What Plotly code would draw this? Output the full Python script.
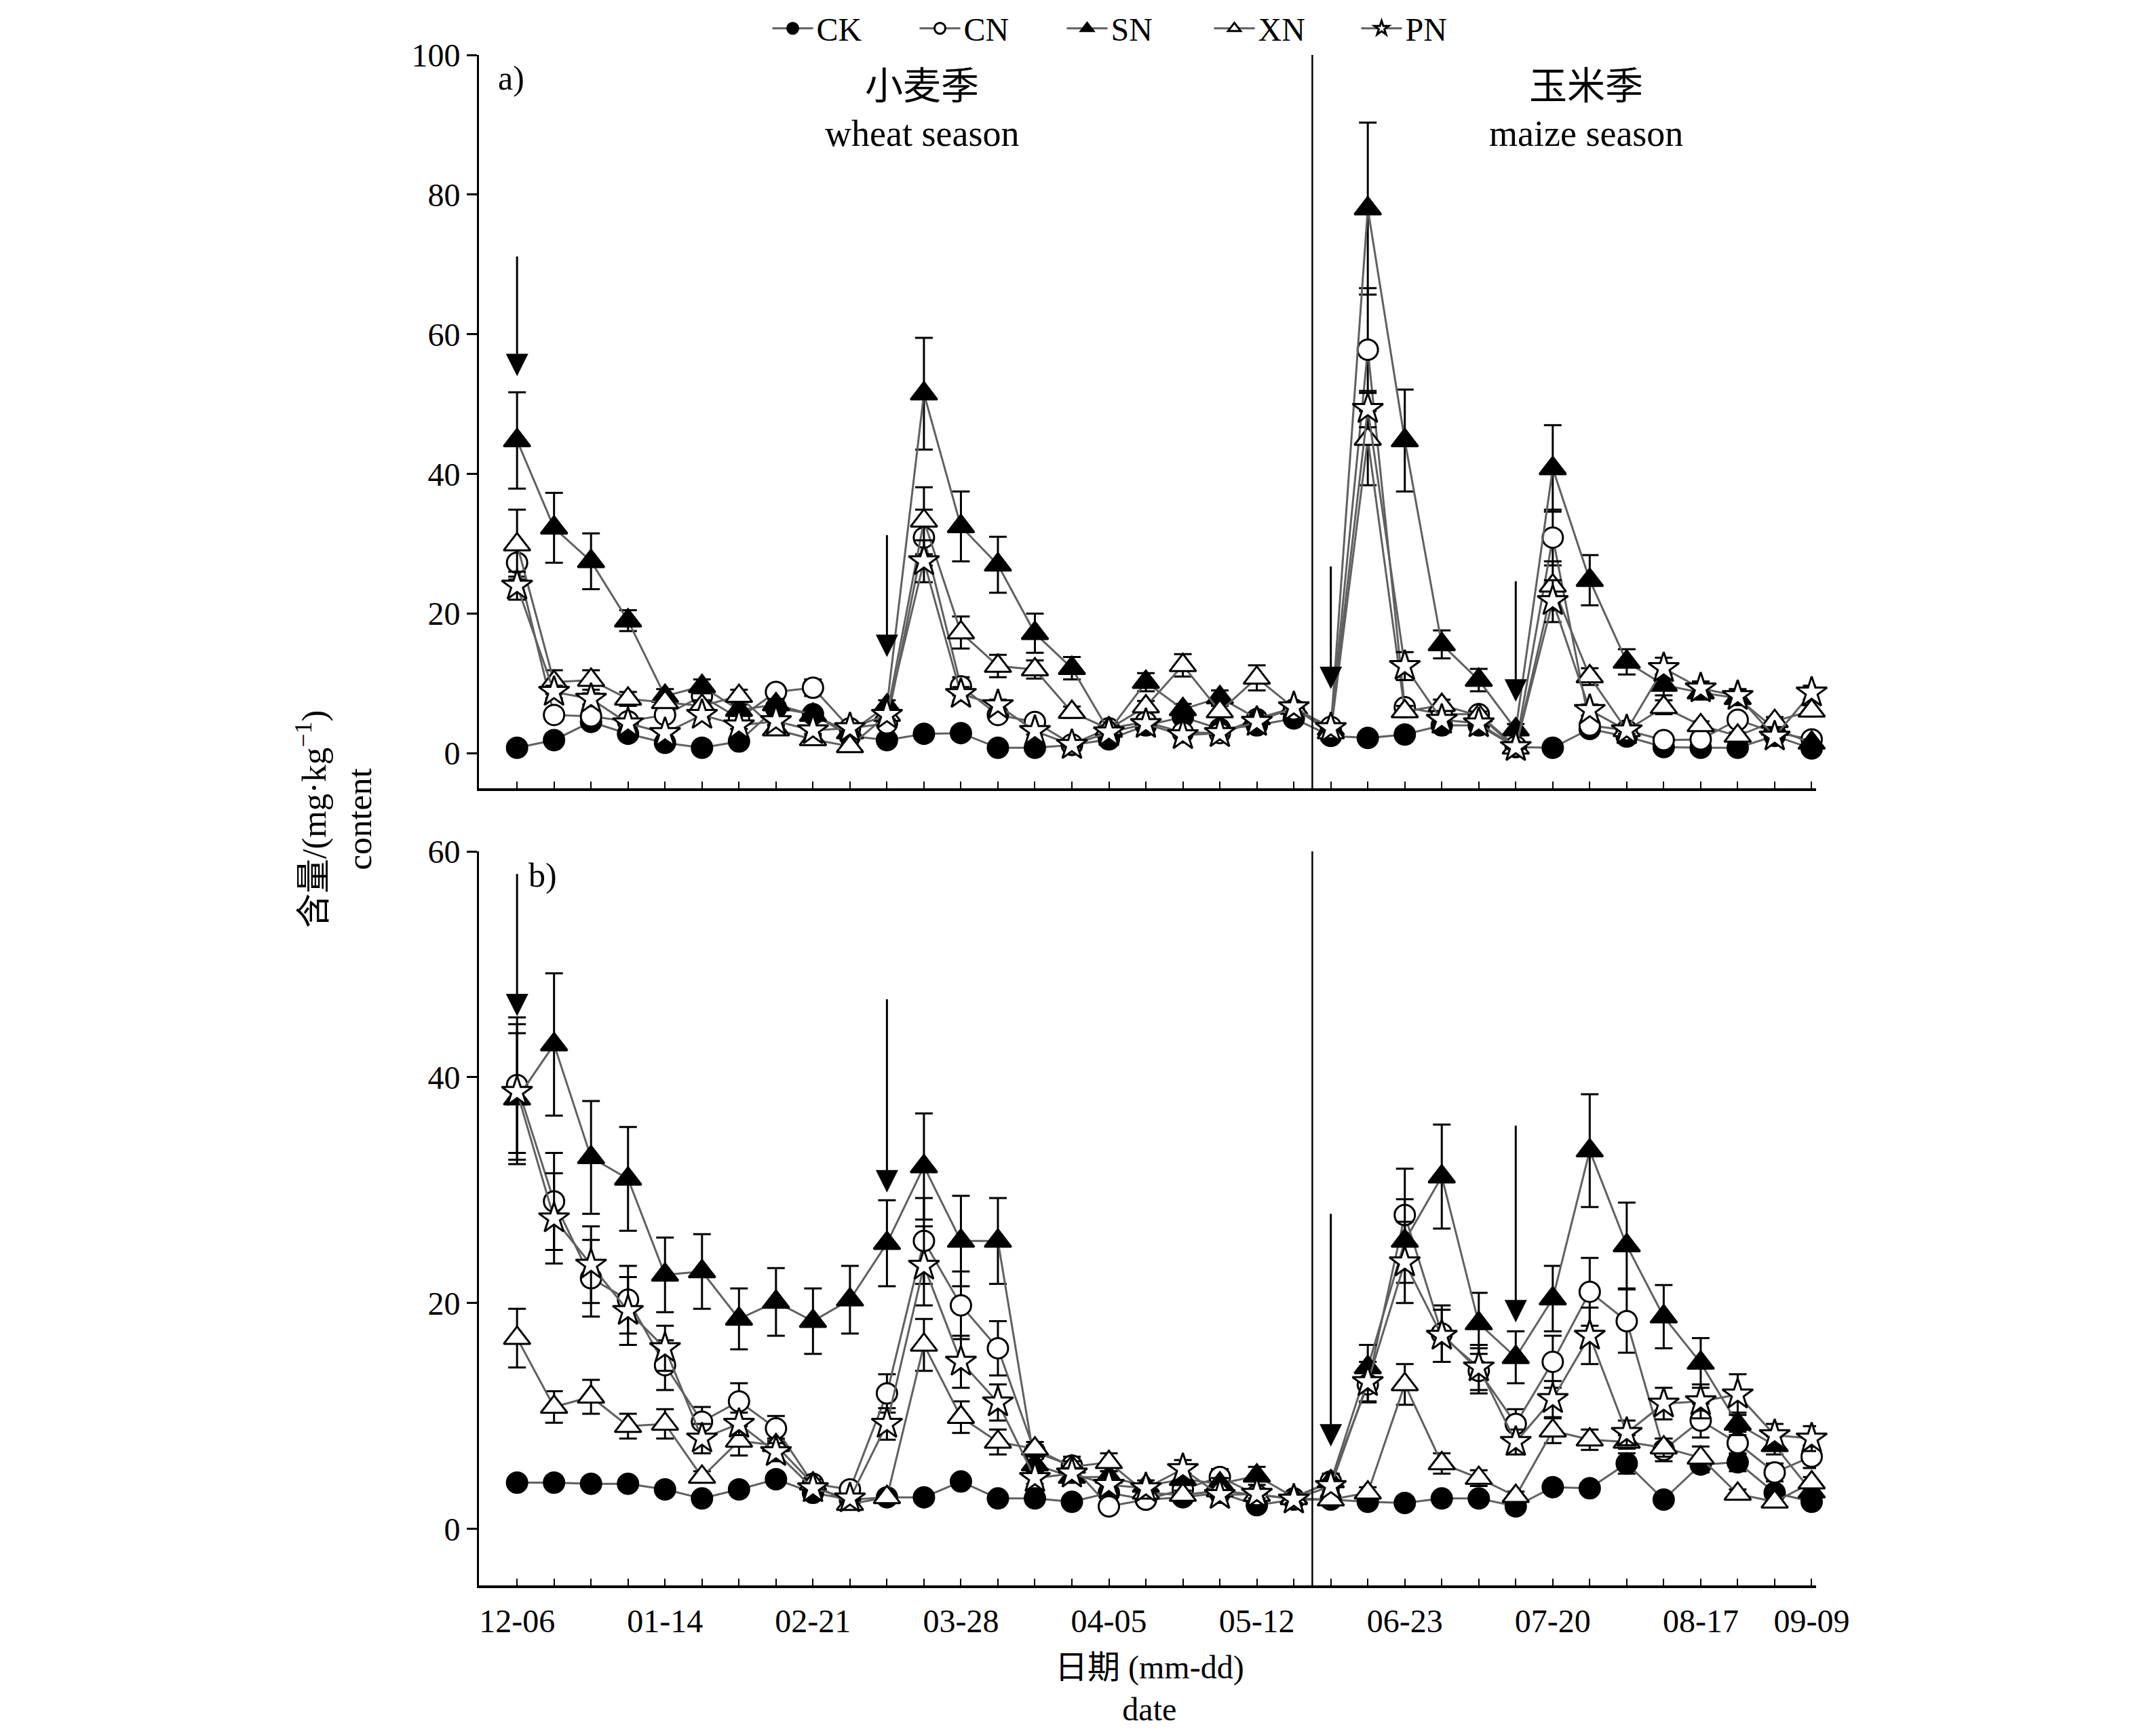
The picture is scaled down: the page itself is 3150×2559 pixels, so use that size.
import plotly.graph_objects as go

# ---------------- data ----------------
idx = list(range(36))
tick_labels = {0: "12-06", 4: "01-14", 8: "02-21", 12: "03-28", 16: "04-05",
               20: "05-12", 24: "06-23", 28: "07-20", 32: "08-17", 35: "09-09"}
season_split = 21.5

# panel a
CK_a = [0.8, 1.9, 4.5, 2.8, 1.5, 0.8, 1.7, 6.5, 5.6, 2.5, 1.9, 2.8, 2.9, 0.8, 0.8, 1.2, 2.0, 4.0,
        5.2, 3.5, 4.0, 5.0, 2.5, 2.2, 2.7, 4.0, 4.0, 0.9, 0.8, 3.5, 2.4, 0.9, 0.8, 0.8, 2.5, 0.7]
CN_a = [27.3, 5.5, 5.3, 4.6, 5.5, 8.2, 5.0, 8.8, 9.4, 3.6, 4.3, 30.9, 9.6, 5.5, 4.5, 1.3, 3.6, 4.5,
        3.0, 2.9, 4.9, 6.3, 3.8, 57.8, 6.6, 5.6, 5.6, 1.0, 30.9, 4.0, 3.3, 1.9, 2.0, 4.8, 3.0, 2.0]
SN_a = [44.8, 32.3, 27.5, 19.0, 8.2, 9.6, 6.2, 7.0, 5.5, 3.0, 6.8, 51.5, 32.5, 27.0, 17.2, 12.2, 3.2, 10.2,
        6.3, 8.0, 5.0, 6.5, 3.5, 78.0, 44.8, 15.6, 10.5, 3.4, 40.8, 24.8, 13.1, 9.8, 8.7, 7.9, 3.5, 1.5]
XN_a = [29.9, 10.2, 10.5, 7.8, 7.3, 6.8, 8.2, 3.4, 2.0, 1.0, 5.5, 33.3, 17.3, 12.5, 12.0, 5.9, 3.5, 6.7,
        12.6, 6.0, 10.8, 6.5, 3.0, 45.0, 6.0, 6.9, 5.4, 0.8, 24.0, 11.0, 3.3, 6.6, 4.0, 2.5, 4.6, 6.1]
PN_a = [24.0, 8.8, 7.8, 4.3, 2.9, 5.5, 4.0, 4.6, 3.3, 3.6, 5.5, 27.5, 8.5, 6.9, 3.2, 1.2, 3.0, 4.2,
        2.6, 2.9, 4.5, 6.6, 3.6, 49.3, 12.5, 4.8, 4.3, 0.9, 21.8, 6.2, 3.3, 12.2, 9.3, 8.2, 2.4, 8.7]

CK_a_err = [0.3] * 36
CN_a_err = [2.0, 0.6, 0.5, 0.5, 0.5, 0.6, 0.5, 0.6, 1.2, 0.5, 0.5, 4.0, 1.3, 0.6, 0.6, 0.4, 0.5, 0.5,
            0.5, 0.5, 0.6, 0.6, 0.5, 8.8, 0.8, 0.6, 0.6, 0.3, 4.0, 0.8, 0.5, 0.4, 0.4, 0.7, 0.5, 0.4]
SN_a_err = [6.9, 5.0, 4.0, 1.5, 1.0, 1.0, 0.8, 0.8, 0.8, 0.6, 0.8, 8.0, 5.0, 4.0, 2.8, 1.6, 0.6, 1.3,
            0.8, 1.0, 0.8, 0.8, 0.6, 12.3, 7.3, 2.0, 1.6, 0.8, 6.2, 3.6, 1.8, 1.5, 1.0, 1.0, 0.8, 0.5]
XN_a_err = [5.0, 1.7, 1.4, 1.0, 0.8, 0.8, 0.9, 0.5, 0.5, 0.4, 0.6, 4.8, 2.3, 1.6, 1.3, 0.8, 0.5, 0.8,
            1.6, 0.8, 1.8, 0.8, 0.5, 6.6, 0.8, 0.8, 0.6, 0.3, 3.5, 1.2, 0.5, 1.0, 0.6, 0.5, 0.6, 0.8]
PN_a_err = [2.0, 0.9, 0.8, 0.5, 0.5, 0.6, 0.5, 0.5, 0.5, 0.5, 0.6, 3.0, 1.0, 0.8, 0.5, 0.3, 0.5, 0.5,
            0.4, 0.4, 0.5, 0.6, 0.5, 2.6, 2.0, 0.6, 0.5, 0.3, 3.0, 0.8, 0.5, 1.5, 1.0, 1.0, 0.5, 1.0]

# panel b
CK_b = [4.1, 4.1, 4.0, 4.0, 3.5, 2.7, 3.5, 4.4, 3.2, 2.6, 2.8, 2.8, 4.2, 2.7, 2.7, 2.4, 3.2, 2.6,
        2.8, 3.2, 2.1, 2.6, 2.6, 2.4, 2.3, 2.7, 2.7, 2.0, 3.7, 3.6, 5.8, 2.6, 5.7, 5.9, 3.2, 2.4]
CN_b = [39.3, 29.0, 22.2, 20.3, 14.5, 9.5, 11.3, 8.9, 4.0, 3.5, 12.0, 25.5, 19.8, 16.0, 6.8, 5.6, 2.0, 2.6,
        3.5, 4.6, 3.0, 2.7, 4.2, 12.8, 27.8, 17.3, 14.0, 9.3, 14.8, 21.0, 18.4, 7.0, 9.6, 7.6, 5.0, 6.4]
SN_b = [38.1, 42.9, 32.9, 31.0, 22.5, 22.8, 18.6, 20.1, 18.4, 20.3, 25.3, 32.1, 25.5, 25.5, 5.7, 4.6, 4.6, 3.8,
        4.4, 4.0, 4.7, 2.8, 4.2, 14.3, 25.5, 31.2, 18.2, 15.2, 20.4, 33.5, 25.1, 18.8, 14.7, 9.3, 7.4, 3.3]
XN_b = [16.9, 10.8, 11.7, 9.1, 9.3, 4.6, 7.8, 7.4, 4.0, 2.2, 2.8, 16.3, 9.9, 7.7, 7.1, 5.5, 5.9, 3.2,
        3.0, 3.4, 3.0, 2.7, 2.6, 3.2, 12.8, 5.8, 4.5, 2.9, 8.7, 7.9, 7.7, 7.2, 6.3, 3.1, 2.4, 4.1]
PN_b = [38.7, 27.5, 23.4, 19.3, 16.0, 8.0, 9.3, 6.8, 3.6, 2.7, 9.3, 23.3, 14.8, 11.2, 4.5, 4.9, 3.9, 3.6,
        5.3, 3.0, 3.1, 2.6, 3.8, 13.0, 23.6, 17.1, 14.3, 7.7, 11.5, 17.1, 8.5, 11.1, 11.3, 11.9, 8.3, 8.0]

CK_b_err = [0.5, 0.4, 0.4, 0.4, 0.4, 0.3, 0.4, 0.5, 0.3, 0.3, 0.3, 0.3, 0.5, 0.3, 0.3, 0.3, 0.4, 0.3,
            0.3, 0.3, 0.3, 0.3, 0.3, 0.3, 0.3, 0.3, 0.3, 0.3, 0.5, 0.5, 0.9, 0.3, 0.7, 0.8, 0.4, 0.3]
CN_b_err = [6.0, 4.3, 3.4, 3.0, 2.2, 1.3, 1.6, 1.1, 0.5, 0.5, 1.7, 3.8, 3.0, 2.4, 0.6, 0.8, 0.4, 0.4,
            0.5, 0.7, 0.4, 0.3, 0.6, 1.5, 4.1, 2.5, 2.0, 1.3, 2.3, 3.0, 2.8, 1.0, 1.5, 1.0, 0.8, 1.0]
SN_b_err = [5.8, 6.3, 5.0, 4.6, 3.3, 3.3, 2.7, 3.0, 2.9, 3.0, 3.8, 4.7, 4.0, 3.8, 0.7, 0.5, 0.5, 0.5,
            0.5, 0.5, 0.8, 0.3, 0.7, 2.0, 3.7, 4.6, 2.7, 2.3, 2.9, 5.0, 3.8, 2.8, 2.2, 1.0, 0.8, 0.5]
XN_b_err = [2.6, 1.4, 1.5, 1.1, 1.3, 0.5, 1.3, 0.6, 0.4, 0.3, 0.4, 2.3, 1.4, 1.1, 0.6, 0.5, 0.8, 0.4,
            0.4, 0.4, 0.4, 0.3, 0.4, 0.5, 1.8, 0.9, 0.7, 0.4, 1.1, 0.9, 0.6, 0.8, 1.0, 0.4, 0.4, 0.5]
PN_b_err = [6.0, 4.0, 3.4, 3.0, 2.0, 1.3, 1.0, 0.8, 0.4, 0.3, 1.4, 3.5, 2.3, 1.6, 0.5, 0.5, 0.4, 0.4,
            0.8, 0.4, 0.4, 0.3, 0.5, 1.8, 3.6, 2.3, 2.0, 1.1, 1.6, 2.5, 1.1, 1.4, 1.5, 1.8, 1.0, 1.1]

# fertilization arrows: (index, start value, tip value)
arrows_a = [(0, 71.3, 54.0), (10, 31.4, 13.8), (22, 26.9, 9.2), (27, 24.8, 7.4)]
arrows_b = [(0, 58.1, 45.4), (10, 47.0, 29.8), (22, 28.0, 7.3), (27, 35.8, 18.3)]

series_names = ["CK", "CN", "SN", "XN", "PN"]

# ---------------- styles ----------------
FONT = "Liberation Serif, Noto Sans CJK SC"
LINE_COLOR = "#606060"
marker_styles = {
    "CK": dict(symbol="circle", color="black", size=30),
    "CN": dict(symbol="circle", color="white", size=30),
    "SN": dict(symbol="triangle-up", color="black", size=34),
    "XN": dict(symbol="triangle-up", color="white", size=34),
    "PN": dict(symbol="star", color="white", size=34),
}

data_a = {"CK": (CK_a, CK_a_err), "CN": (CN_a, CN_a_err), "SN": (SN_a, SN_a_err),
          "XN": (XN_a, XN_a_err), "PN": (PN_a, PN_a_err)}
data_b = {"CK": (CK_b, CK_b_err), "CN": (CN_b, CN_b_err), "SN": (SN_b, SN_b_err),
          "XN": (XN_b, XN_b_err), "PN": (PN_b, PN_b_err)}

fig = go.Figure()

for panel, data, xa, ya in [("a", data_a, "x", "y"), ("b", data_b, "x2", "y2")]:
    for name in series_names:
        vals, err = data[name]
        st = marker_styles[name]
        fig.add_trace(go.Scatter(
            x=idx, y=vals, name=name, mode="lines+markers",
            xaxis=xa, yaxis=ya, showlegend=(panel == "a"),
            line=dict(color=LINE_COLOR, width=3),
            marker=dict(symbol=st["symbol"], color=st["color"], size=st["size"],
                        line=dict(color="black", width=3)),
            error_y=dict(type="data", array=err, visible=True, color="black",
                         thickness=3, width=13),
            cliponaxis=False,
        ))

tickvals = idx
ticktext = [tick_labels.get(i, "") for i in idx]
xrange = [-1.03, 35.12]

common_x = dict(range=xrange, showline=True, linecolor="black", linewidth=4,
                ticks="inside", ticklen=10, tickwidth=2, tickcolor="black",
                tickvals=tickvals, showgrid=False, zeroline=False,
                tickfont=dict(family=FONT, size=48, color="black"))
common_y = dict(showline=True, linecolor="black", linewidth=3, ticks="outside",
                ticklen=15, tickwidth=3, tickcolor="black", showgrid=False,
                zeroline=False, tickfont=dict(family=FONT, size=48, color="black"))

L, R, T, B = 698, 2669, 73, 2329
W, H = 3150, 2559
PW, PH = R - L, B - T
A_BOTTOM, B_TOP = 1154, 1247

top_dom = [(B - A_BOTTOM) / PH, 1.0]
bot_dom = [0.0, (B - B_TOP) / PH]

def px(xp):
    return (xp - L) / PW

def py(yp):
    return (B - yp) / PH

fig.update_layout(
    width=W, height=H,
    margin=dict(l=L, r=W - R, t=T, b=H - B, autoexpand=False),
    paper_bgcolor="white", plot_bgcolor="white",
    font=dict(family=FONT, color="black", size=48),
    xaxis=dict(common_x, anchor="y", domain=[0, 1], ticktext=[""] * 36),
    yaxis=dict(common_y, anchor="x", domain=top_dom, range=[-5, 100],
               tickvals=[0, 20, 40, 60, 80, 100]),
    xaxis2=dict(common_x, anchor="y2", domain=[0, 1], ticktext=ticktext,
                ticklabelstandoff=7),
    yaxis2=dict(common_y, anchor="x2", domain=bot_dom, range=[-5, 60],
                tickvals=[0, 20, 40, 60]),
    legend=dict(orientation="h", x=px(1668), xanchor="center", y=py(34), yanchor="middle",
                font=dict(family=FONT, size=48, color="black"),
                entrywidth=142, entrywidthmode="pixels", itemwidth=60,
                bgcolor="rgba(0,0,0,0)"),
    showlegend=True,
)

# season divider lines
for xr, yr in [("x", "y domain"), ("x2", "y2 domain")]:
    fig.add_shape(type="line", xref=xr, yref=yr, x0=season_split, x1=season_split,
                  y0=0, y1=1, line=dict(color="black", width=2.5))

annotations = []
for arrows, xr, yr in [(arrows_a, "x", "y"), (arrows_b, "x2", "y2")]:
    for (i, start, tip) in arrows:
        annotations.append(dict(x=i, y=tip, ax=i, ay=start, xref=xr, yref=yr,
                                axref=xr, ayref=yr, text="", showarrow=True,
                                arrowhead=2, arrowsize=2.2, arrowwidth=3,
                                arrowcolor="black"))

def txt(s, x, y, xr, yr, size, **kw):
    d = dict(text=s, x=x, y=y, xref=xr, yref=yr, showarrow=False,
             font=dict(family=FONT, size=size, color="black"))
    d.update(kw)
    annotations.append(d)

txt("a)", -0.15, 96.7, "x", "y", 50)
txt("b)", 0.7, 57.9, "x2", "y2", 50)
txt("小麦季", 10.94, 95.5, "x", "y", 56)
txt("wheat season", 10.94, 88.7, "x", "y", 54)
txt("玉米季", 28.9, 95.5, "x", "y", 56)
txt("maize season", 28.9, 88.7, "x", "y", 54)

# axis titles
txt("含量/(mg·kg<sup>−1</sup>)<br>content", px(484), py(1200), "paper", "paper", 51,
    textangle=-90, xanchor="center", yanchor="middle")
txt("日期 (mm-dd)<br>date", px(1686), py(2480), "paper", "paper", 48,
    xanchor="center", yanchor="middle")

fig.update_layout(annotations=annotations)

fig.write_html("out.html")
